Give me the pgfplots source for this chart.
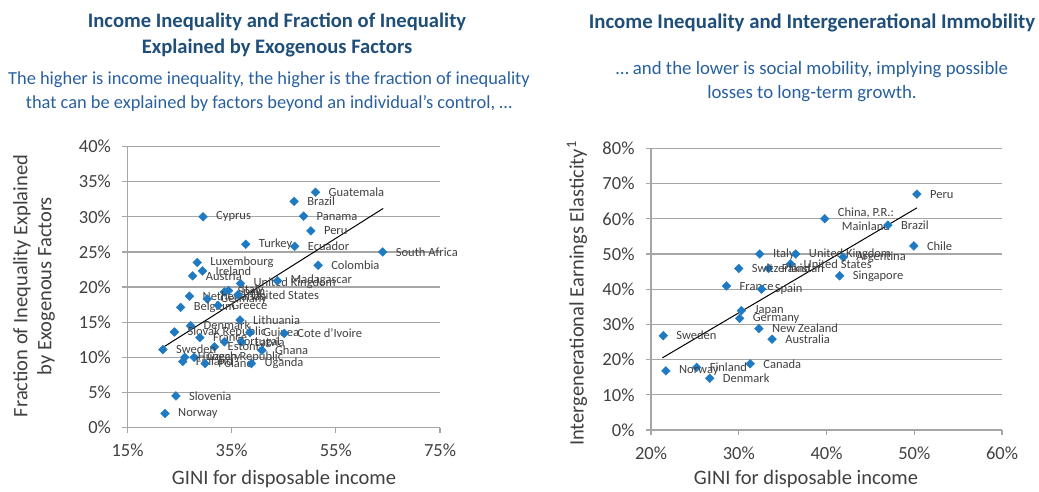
\documentclass[border=0pt]{standalone}
\usepackage{pgfplots}
\pgfplotsset{compat=1.18}
\usepackage{fontspec}
\setmainfont{Carlito}
\definecolor{mk}{RGB}{31,122,193}
\definecolor{ttl}{RGB}{31,78,121}
\definecolor{sub}{RGB}{40,96,158}
\definecolor{gridc}{RGB}{166,166,166}
\definecolor{txt}{RGB}{64,64,64}
\pgfplotstableread[col sep=semicolon]{
g;v;l
51.1;33.5;Guatemala
47.0;32.2;Brazil
48.8;30.1;Panama
50.2;28.0;Peru
29.5;30.0;Cyprus
37.7;26.1;Turkey
47.1;25.8;Ecuador
64.0;25.0;South Africa
51.6;23.1;Colombia
28.4;23.5;Luxembourg
29.4;22.3;Ireland
27.5;21.6;Austria
36.7;20.5;United Kingdom
43.8;20.9;Madagascar
33.6;19.3;Spain
34.4;19.5;Italy
26.9;18.7;Netherlands
30.3;18.3;Germany
36.2;18.9;United States
25.2;17.1;Belgium
32.4;17.4;Greece
36.6;15.3;Lithuania
27.1;14.5;Denmark
24.0;13.6;Slovak Republic
28.9;12.8;France
33.6;12.2;Portugal
36.9;12.2;Latvia
31.7;11.5;Estonia
27.8;10.0;Czech Republic
26.0;10.0;Hungary
25.6;9.4;Finland
29.9;9.1;Poland
40.8;11.0;Ghana
38.5;13.5;Guinea
45.1;13.4;Cote d'Ivoire
38.8;9.1;Uganda
24.3;4.5;Slovenia
22.2;2.0;Norway
21.8;11.1;Sweden
}\lefttab
\pgfplotstableread[col sep=semicolon]{
g;v;l
50.3;67.0;Peru
39.8;60.0;{China, P.R.:\\Mainland}
47.0;58.2;Brazil
49.95;52.3;Chile
32.4;50.0;Italy
36.5;50.0;United Kingdom
41.9;49.1;Argentina
35.9;47.2;United States
33.4;45.9;Pakistan
30.0;45.9;Switzerland
41.5;43.8;Singapore
28.6;40.9;France
32.6;40.0;Spain
30.3;33.9;Japan
30.1;31.7;Germany
32.3;28.8;New Zealand
33.8;25.8;Australia
21.4;26.8;Sweden
31.3;18.8;Canada
25.2;17.8;Finland
21.7;16.8;Norway
26.7;14.7;Denmark
}\righttab
\begin{document}
\begin{tikzpicture}
\path (0pt,0pt) rectangle (1039pt,489pt);
\pgfplotsset{
 sc/.style={
  scale only axis, axis lines=left, axis line style={gridc, line width=1.3pt, -},
  ymajorgrids, grid style={gridc, line width=1.3pt},
  tick style={gridc, line width=1.3pt}, tick align=outside, major tick length=5pt,
  /pgf/number format/assume math mode=true,
  ticklabel style={font=\fontsize{18.5}{18.5}\selectfont, text=txt},
  xticklabel style={yshift=-8pt},
  yticklabel style={xshift=-8pt},
  xticklabel={\pgfmathprintnumber{\tick}\%},
  yticklabel={\pgfmathprintnumber{\tick}\%},
  clip=false,
 },
 pts/.style={only marks, mark=square*, mark size=3.1pt, color=mk,
  mark options={rotate=45, draw=mk, fill=mk},
  nodes near coords, point meta=explicit symbolic,
  every node near coord/.append style={font=\fontsize{12.5}{14}\selectfont, anchor=west, xshift=13pt, yshift=0pt, inner sep=0pt, text=txt, align=center}},
}
% left chart
\begin{axis}[sc, at={(127.5pt,61.5pt)}, anchor=south west, width=312.5pt, height=280.9pt,
  xmin=15, xmax=75, ymin=0, ymax=40, xtick={15,35,55,75}, ytick={0,5,...,40}]
\addplot[pts] table[x=g, y=v, meta=l] {\lefttab};
\addplot[black, line width=1pt, no marks] coordinates {(21.8,11.4) (64.1,31.2)};
\end{axis}
% right chart
\begin{axis}[sc, at={(651pt,59pt)}, anchor=south west, width=351pt, height=281.6pt,
  xmin=20, xmax=60, ymin=0, ymax=80, xtick={20,30,...,60}, ytick={0,10,...,80}]
\addplot[pts] table[x=g, y=v, meta=l] {\righttab};
\addplot[black, line width=1pt, no marks] coordinates {(21.3,20.5) (50.3,63.1)};
\end{axis}
% titles
\node[font=\bfseries\fontsize{20.6}{26}\selectfont, text=ttl, align=center] at (277pt,454pt) {Income Inequality and Fraction of Inequality\\Explained by Exogenous Factors};
\node[font=\fontsize{18.4}{24}\selectfont, text=sub, align=center] at (269pt,397pt) {The higher is income inequality, the higher is the fraction of inequality\\that can be explained by factors beyond an individual's control, \dots};
\node[font=\bfseries\fontsize{20.8}{26}\selectfont, text=ttl, align=center] at (812pt,466pt) {Income Inequality and Intergenerational Immobility};
\node[font=\fontsize{18.8}{24}\selectfont, text=sub, align=center] at (812pt,407pt) {\dots\ and the lower is social mobility, implying possible\\losses to long-term growth.};
% axis labels
\node[font=\fontsize{20.5}{24}\selectfont, text=txt, align=center, rotate=90] at (34pt,203pt) {Fraction of Inequality Explained\\by Exogenous Factors};
\node[font=\fontsize{20.5}{24}\selectfont, text=txt, rotate=90] at (577pt,195.5pt) {Intergenerational Earnings Elasticity\textsuperscript{1}};
\node[font=\fontsize{20.5}{24}\selectfont, text=txt] at (284pt,10pt) {GINI for disposable income};
\node[font=\fontsize{20.5}{24}\selectfont, text=txt] at (806pt,10pt) {GINI for disposable income};
\end{tikzpicture}
\end{document}
